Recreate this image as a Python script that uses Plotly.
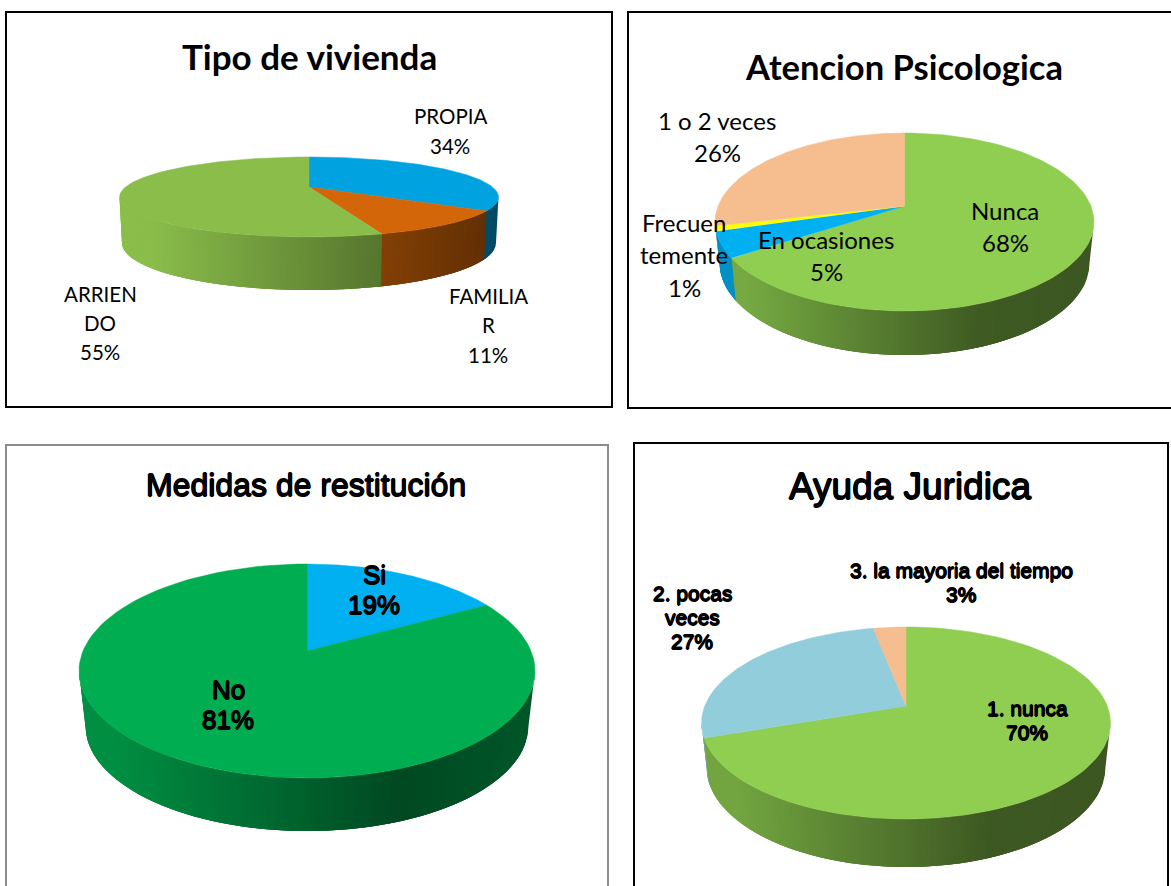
import numpy as np
import plotly.graph_objects as go

# ---- data ----
vivienda_cats = ["PROPIA", "FAMILIAR", "ARRIENDO"]
vivienda_vals = [34, 11, 55]
vivienda_cols = ["#00a3e0", "#d26608", "#8abd4a"]

psico_cats = ["Nunca", "En ocasiones", "Frecuentemente", "1 o 2 veces"]
psico_vals = [68, 5, 1, 26]
psico_cols = ["#8fce50", "#00b0f0", "#ffff00", "#f6bd8e"]

medidas_cats = ["Si", "No"]
medidas_vals = [19, 81]
medidas_cols = ["#00b0f0", "#00ad50"]

juridica_cats = ["1. nunca", "2. pocas veces", "3. la mayoria del tiempo"]
juridica_vals = [70, 27, 3]
juridica_cols = ["#8fce50", "#92cddc", "#f6bd8e"]

SANS = "Lato, Carlito, Calibri, sans-serif"
ARIAL = "Liberation Sans, Arial, sans-serif"
BOLD = "0.7px 0 0 #000, -0.7px 0 0 #000, 0 0.6px 0 #000, 0 -0.6px 0 #000"

charts = [
    dict(title="Tipo de vivienda", title_xy=(309, 56), title_size=35, title_font=SANS, title_weight=700, title_shadow="none",
         cats=vivienda_cats, vals=vivienda_vals, cols=vivienda_cols,
         cx=309, cy=197, rx=189.5, ry=40, apex=187, cy2=243, rx2=187, ry2=47, v0=-0.23, grad=(1.0, 0.62, 0.45),
         frame=(6, 12, 612, 407, "#000000"), font=SANS, size=20.5, weight=400, shadow="none",
         labels=[(["PROPIA", "34%"], 450, [116, 146]),
                 (["FAMILIA", "R", "11%"], 488, [296, 325, 355]),
                 (["ARRIEN", "DO", "55%"], 100, [294, 323, 352])]),
    dict(title="Atencion Psicologica", title_xy=(904, 66), title_size=34.5, title_font=SANS, title_weight=700, title_shadow="none",
         cats=psico_cats, vals=psico_vals, cols=psico_cols,
         cx=904.5, cy=222, rx=189.5, ry=89, apex=206, cy2=263, rx2=185, ry2=92, v0=-0.02, grad=(0.82, 0.44, 0.42),
         frame=(628, 12, 1176, 408, "#000000"), font=SANS, size=24, weight=400, shadow="none",
         labels=[(["Nunca", "68%"], 1005, [210, 242]),
                 (["En ocasiones", "5%"], 826, [239, 271]),
                 (["Frecuen", "temente", "1%"], 684, [222, 254, 287]),
                 (["1 o 2 veces", "26%"], 717, [120, 152])]),
    dict(title="Medidas de restitución", title_xy=(306, 485), title_size=32, title_font=ARIAL, title_weight=400, title_shadow=BOLD,
         cats=medidas_cats, vals=medidas_vals, cols=medidas_cols,
         cx=307, cy=671, rx=228, ry=107, apex=651, cy2=726, rx2=221.5, ry2=105, v0=-0.32, grad=(0.82, 0.42, 0.5),
         frame=(6, 445, 608, 892, "#8c8c8c"), font=ARIAL, size=26, weight=400, shadow=BOLD,
         labels=[(["Si", "19%"], 374, [575, 605]),
                 (["No", "81%"], 228, [690, 720])]),
    dict(title="Ayuda Juridica", title_xy=(910, 486), title_size=37, title_font=ARIAL, title_weight=400, title_shadow=BOLD,
         cats=juridica_cats, vals=juridica_vals, cols=juridica_cols,
         cx=906, cy=723, rx=204.5, ry=96, apex=706, cy2=767, rx2=199.5, ry2=100, v0=-0.16, grad=(0.8, 0.43, 0.42),
         frame=(634, 443, 1168, 892, "#000000"), font=ARIAL, size=21, weight=400, shadow=BOLD,
         labels=[(["1. nunca", "70%"], 1027, [708, 732]),
                 (["2. pocas", "veces", "27%"], 692, [593, 617, 641]),
                 (["3. la mayoria del tiempo", "3%"], 961, [570, 594])]),
]


def rim(theta, v0):
    """Angle round the pie (clockwise from 12 o'clock) -> unit ellipse point, with tilt."""
    u, v = np.sin(theta), -np.cos(theta)
    d = 1 + v * v0
    return u * np.sqrt(1 - v0 ** 2) / d, (v + v0) / d


def shade(hex_col, f):
    r, g, b = (int(hex_col[i:i + 2], 16) for i in (1, 3, 5))
    return f"rgb({round(r * f)},{round(g * f)},{round(b * f)})"


fig = go.Figure()
annotations = []
shapes = []

for c in charts:
    vals = np.array(c["vals"], float)
    edges = np.concatenate([[0], np.cumsum(vals) / vals.sum()]) * 2 * np.pi
    phi_edges = []
    for e in edges:
        u, v = rim(e, c["v0"])
        phi_edges.append(np.arctan2(u, -v) % (2 * np.pi))
    phi_edges[0], phi_edges[-1] = 0.0, 2 * np.pi
    phi_edges = np.array(phi_edges)

    # side wall: each strip reaches under the one painted after it, so no seams show
    xs = np.linspace(1, -1, 121)
    nodes = np.pi - np.arcsin(xs)
    nodes = np.unique(np.concatenate([nodes, phi_edges[(phi_edges > np.pi / 2) & (phi_edges < 1.5 * np.pi)]]))
    f0, fm, fe = c["grad"]
    for k, (a, b) in enumerate(zip(nodes[:-1], nodes[1:])):
        mid = (a + b) / 2
        idx = int(np.searchsorted(phi_edges, mid) - 1)
        t = (np.sin(mid) + 1) / 2  # 0 at the left edge, 1 at the right edge
        f = np.interp(t, [0, 0.08, 0.7, 1], [f0, f0, fm, fe])
        col = shade(c["cols"][idx], f)
        end = nodes[min(k + 3, len(nodes) - 1)]
        ph = np.linspace(a, end, 5)
        x = np.concatenate([c["cx"] + c["rx"] * np.sin(ph), c["cx"] + c["rx2"] * np.sin(ph[::-1])])
        y = np.concatenate([c["cy"] - c["ry"] * np.cos(ph), c["cy2"] - c["ry2"] * np.cos(ph[::-1])])
        fig.add_trace(go.Scatter(x=x, y=y, mode="lines", fill="toself", fillcolor=col,
                                 line=dict(color=col, width=0), hoverinfo="skip", showlegend=False))

    # top faces
    for i, (cat, col) in enumerate(zip(c["cats"], c["cols"])):
        ph = np.linspace(phi_edges[i], phi_edges[i + 1], 120)
        x = np.concatenate([[c["cx"]], c["cx"] + c["rx"] * np.sin(ph), [c["cx"]]])
        y = np.concatenate([[c["apex"]], c["cy"] - c["ry"] * np.cos(ph), [c["apex"]]])
        fig.add_trace(go.Scatter(x=x, y=y, mode="lines", fill="toself", fillcolor=col, name=cat,
                                 line=dict(color=col, width=0.5), hoverinfo="skip", showlegend=False))

    # frame
    x0, y0, x1, y1, fc = c["frame"]
    shapes.append(dict(type="rect", xref="x", yref="y", x0=x0, y0=y0, x1=x1, y1=y1,
                       line=dict(color=fc, width=2), fillcolor="rgba(0,0,0,0)", layer="below"))

    # title
    annotations.append(dict(x=c["title_xy"][0], y=c["title_xy"][1], text=c["title"], showarrow=False,
                            xanchor="center", yanchor="middle",
                            font=dict(family=c["title_font"], size=c["title_size"], color="#000000",
                                      weight=c["title_weight"], shadow=c["title_shadow"])))
    # labels
    for lines, lx, lys in c["labels"]:
        for line, ly in zip(lines, lys):
            annotations.append(dict(x=lx, y=ly, text=line, showarrow=False, xanchor="center", yanchor="middle",
                                    font=dict(family=c["font"], size=c["size"], color="#000000",
                                              weight=c["weight"], shadow=c["shadow"])))

fig.update_layout(
    width=1171, height=886, margin=dict(l=0, r=0, t=0, b=0),
    paper_bgcolor="#ffffff", plot_bgcolor="#ffffff", showlegend=False,
    xaxis=dict(range=[0, 1171], visible=False, fixedrange=True),
    yaxis=dict(range=[886, 0], visible=False, fixedrange=True),
    annotations=annotations, shapes=shapes,
)
fig.write_html("out.html", config={"displayModeBar": False},
               post_script="document.body.style.margin='0';document.documentElement.style.overflow='hidden';")
